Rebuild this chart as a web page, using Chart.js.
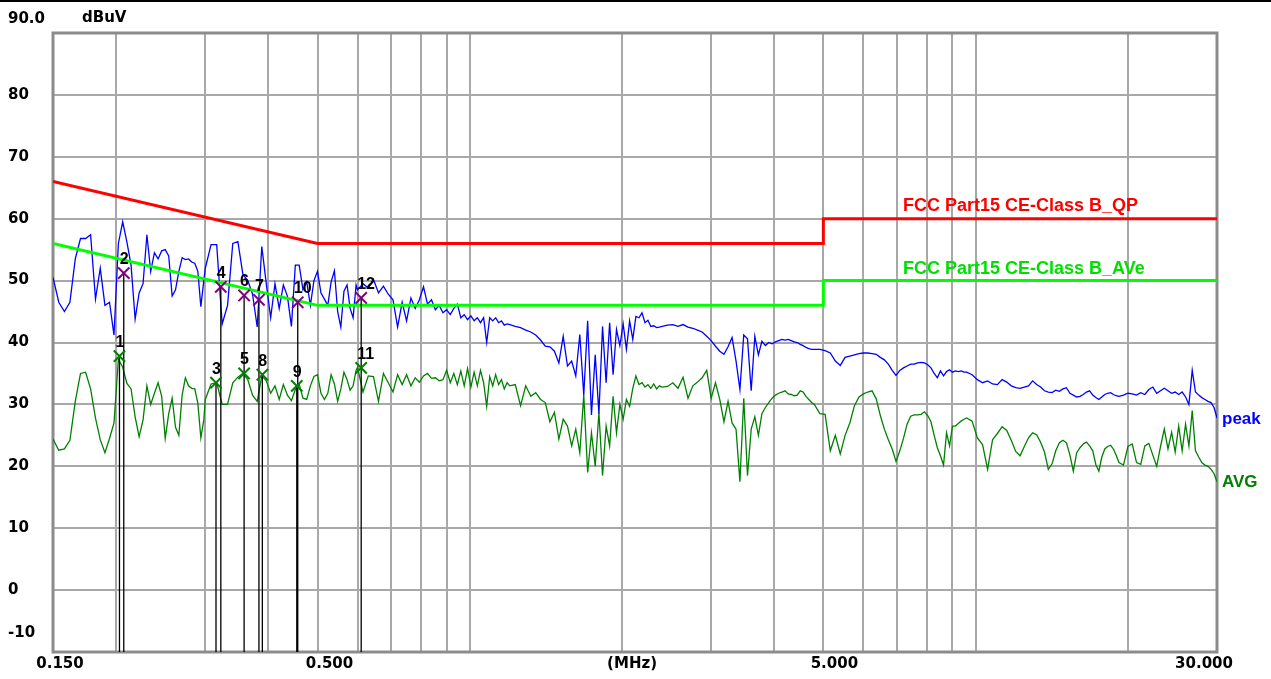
<!DOCTYPE html>
<html>
<head>
<meta charset="utf-8">
<script src="https://cdn.jsdelivr.net/npm/chart.js@4"></script>
<style>
  html, body { margin: 0; padding: 0; background: #fff; }
  #wrap { position: relative; width: 1271px; height: 679px; }
</style>
</head>
<body>
<div id="wrap"><canvas id="myChart"></canvas></div>
<script>
// scan frequencies in kHz
const freqKHz = [
  150,154,158,162,166,170,174,178,182,186,190,194,198,202,206,210,214,218,222,226,230,234,238,242,246,250,254,258,262,266,270,274,278,282,286,290,294,298,
  300,308,316,324,332,340,348,356,364,372,380,388,396,404,412,420,428,436,444,452,460,468,476,484,492,500,508,516,524,532,540,548,556,564,572,580,588,596,
  600,615,630,645,660,675,690,705,720,735,750,765,780,795,810,825,840,855,870,885,900,915,930,945,960,975,990,1005,1020,1035,1050,1065,1080,1095,1110,1125,1140,1155,1170,1185,
  1200,1230,1260,1290,1320,1350,1380,1410,1440,1470,1500,1530,1560,1590,1620,1650,1680,1710,1740,1770,1800,1830,1860,1890,1920,1950,1980,2010,2040,2070,2100,2130,2160,2190,2220,2250,2280,2310,2340,2370,
  2400,2460,2520,2580,2640,2700,2760,2820,2880,2940,3000,3060,3120,3180,3240,3300,3360,3420,3480,3540,3600,3660,3720,3780,3840,3900,3960,4020,4080,4140,4200,4260,4320,4380,4440,4500,4560,4620,4680,4740,
  4800,4920,5040,5160,5280,5400,5520,5640,5760,5880,6000,6120,6240,6360,6480,6600,6720,6840,6960,7080,7200,7320,7440,7560,7680,7800,7920,8040,8160,8280,8400,8520,8640,8760,8880,9000,9120,9240,9360,9480,
  9600,9840,10080,10320,10560,10800,11040,11280,11520,11760,12000,12240,12480,12720,12960,13200,13440,13680,13920,14160,14400,14640,14880,15120,15360,15600,15840,16080,16320,16560,16800,17040,17280,17520,17760,18000,18240,18480,18720,18960,
  19200,19600,20000,20400,20800,21200,21600,22000,22400,22800,23200,23600,24000,24400,24800,25200,25600,26000,26400,26800,27200,27600,28000,28400,28800,29200,29600,30000
];

const peakDb = [
  50.5,46.5,45.0,46.5,53.5,56.8,56.8,57.4,47.0,52.0,46.0,46.5,41.2,56.0,59.5,56.2,52.5,43.8,48.0,49.5,57.4,51.5,54.5,53.5,54.8,55.0,54.0,47.5,48.5,51.5,53.7,53.4,53.5,53.0,52.8,51.5,45.8,50.0,
  52.0,55.8,55.8,43.0,46.0,56.0,56.3,51.0,50.0,47.8,42.5,55.5,49.5,44.0,49.5,45.5,49.3,47.5,42.6,52.5,52.5,48.5,49.8,46.0,50.0,51.5,48.0,47.0,46.0,49.8,51.6,45.0,42.5,48.3,49.3,45.5,44.0,49.3,
  48.5,49.5,48.8,50.2,48.0,49.1,47.8,46.9,42.5,46.5,43.5,47.2,45.5,46.9,49.0,46.2,46.9,45.3,46.0,44.8,45.3,44.5,45.5,46.2,44.0,44.5,43.7,44.3,43.5,44.0,43.2,44.0,40.0,44.0,43.5,44.0,43.2,43.5,42.8,43.0,
  42.9,42.6,42.4,42.0,41.7,41.2,40.4,39.4,39.3,38.6,36.7,41.0,36.2,37.0,34.6,41.3,31.5,43.5,28.3,38.0,28.5,42.6,33.5,43.2,34.8,42.1,39.5,43.0,38.9,43.5,40.5,44.2,44.0,44.8,43.2,43.6,42.6,42.7,42.4,42.5,
  42.6,42.8,42.9,42.6,42.9,42.5,42.3,42.0,41.7,41.0,40.3,39.4,38.6,38.1,39.3,40.8,37.0,32.4,41.2,40.6,32.2,41.0,38.0,40.2,39.5,40.0,39.8,40.1,40.3,40.5,40.4,40.5,40.3,40.1,40.0,39.7,39.5,39.2,39.0,38.9,
  38.9,38.9,38.7,38.3,37.0,36.3,37.6,37.8,38.0,38.2,38.3,38.3,38.2,38.1,37.6,37.2,36.5,35.5,34.7,35.5,35.9,36.2,36.5,36.5,36.7,36.8,36.7,36.4,35.9,35.0,34.3,35.4,34.6,35.3,35.6,35.2,35.4,35.3,35.4,35.2,
  35.2,34.8,34.0,33.5,33.8,33.3,33.2,34.0,33.6,33.0,32.7,32.6,32.8,33.0,33.8,33.2,32.8,32.2,32.0,31.9,32.3,32.1,32.5,32.7,31.8,31.5,31.2,31.3,31.6,32.0,32.2,31.5,31.1,30.8,31.2,31.6,31.8,31.9,31.6,31.4,
  31.3,31.5,31.8,31.7,31.5,31.9,31.6,32.4,32.8,31.8,32.2,32.6,32.2,31.8,32.0,31.6,32.0,31.2,30.0,35.5,32.0,31.5,31.1,30.8,30.5,30.3,29.5,27.8
];

const avgDb = [
  24.4,22.6,22.8,24.2,30.5,35.0,35.2,32.5,27.8,24.3,22.2,24.5,27.0,37.3,36.0,33.4,32.5,28.0,24.8,27.5,33.0,30.0,31.8,33.5,31.3,24.5,28.5,31.0,26.3,25.0,31.5,34.3,33.0,32.6,32.5,30.2,24.6,27.5,
  30.8,33.3,33.5,30.0,30.0,33.5,34.4,35.0,34.0,31.5,30.5,34.6,33.8,31.8,33.0,30.8,33.2,31.5,30.6,32.4,33.3,31.0,30.8,33.0,34.5,34.8,31.8,30.8,31.8,34.8,33.3,30.5,32.5,35.2,34.0,32.3,33.0,35.5,
  36.0,32.0,34.6,34.5,30.5,35.0,33.5,32.0,34.8,33.2,34.8,33.0,34.3,33.6,34.6,35.0,34.2,34.3,33.8,34.0,35.5,33.5,35.0,33.2,35.4,33.0,35.8,32.8,35.2,33.0,35.5,33.5,29.7,34.5,33.0,34.8,33.2,34.0,32.5,33.5,
  33.0,33.2,29.8,33.0,31.3,31.9,30.8,30.3,27.2,28.7,24.4,27.6,26.5,23.3,26.0,22.2,31.5,19.0,25.4,20.0,28.7,18.5,26.5,23.3,31.3,25.4,30.0,27.6,30.8,29.7,32.6,34.6,33.2,33.5,32.8,33.2,32.6,33.3,32.5,33.0,
  32.8,32.9,33.5,32.6,34.4,31.0,33.0,33.6,34.3,35.5,31.0,33.5,30.8,27.2,30.5,27.0,26.0,17.5,31.0,18.5,26.0,28.0,25.0,28.5,29.5,30.3,31.0,31.5,31.8,32.0,32.2,31.7,31.6,31.4,31.5,32.2,32.0,31.3,30.8,30.3,
  30.0,28.5,28.4,22.5,25.0,22.0,25.0,27.0,29.8,31.2,31.7,32.0,32.2,30.9,28.2,26.0,24.3,22.8,20.8,22.5,24.5,26.8,28.1,28.3,28.3,28.4,28.8,28.2,27.2,25.0,23.0,21.7,20.2,25.4,23.3,26.5,26.5,26.9,27.3,27.6,
  27.8,27.3,24.6,23.5,19.5,24.3,25.3,26.4,25.8,24.2,22.4,21.7,23.2,24.6,25.4,25.1,23.9,22.3,19.5,20.4,22.5,23.8,24.2,23.8,21.8,19.2,22.2,23.0,23.6,23.9,23.3,22.5,20.3,19.2,21.5,22.8,23.2,23.4,22.8,21.8,
  20.6,20.2,23.2,23.6,20.6,20.3,23.3,23.7,21.8,20.0,23.2,26.0,22.8,25.5,22.3,26.5,22.5,26.8,23.3,29.0,22.5,21.5,20.6,20.2,20.0,19.5,18.8,17.5
];

// FCC Part 15 class B limits (MHz / dBuV)
const limitFreq = [0.15, 0.5, 5, 5, 30];
const qpLimit = [66, 56, 56, 60, 60];
const avLimit = [56, 46, 46, 50, 50];

// markers
const peakMarkFreq = [0.207, 0.322, 0.358, 0.383, 0.457, 0.610];
const peakMarkDb = [51.2, 49.0, 47.6, 46.9, 46.5, 47.2];
const peakMarkNo = ['2', '4', '6', '7', '10', '12'];
const avgMarkFreq = [0.203, 0.315, 0.358, 0.389, 0.455, 0.610];
const avgMarkDb = [37.8, 33.5, 35.0, 34.8, 33.0, 35.9];
const avgMarkNo = ['1', '3', '5', '8', '9', '11'];

const xGridMHz = [0.15,0.2,0.3,0.4,0.5,0.6,0.7,0.8,0.9,1,2,3,4,5,6,7,8,9,10,20,30];
const xTickMHz = [0.15, 0.5, 2, 5, 30];
const xTickText = ['0.150', '0.500', '(MHz)', '5.000', '30.000'];
const yTicks = [-10, 0, 10, 20, 30, 40, 50, 60, 70, 80, 90];
const yTickText = ['-10', '0', '10', '20', '30', '40', '50', '60', '70', '80', '90.0'];

const pts = (xs, ys) => xs.map((x, i) => ({ x: x, y: ys[i] }));

const stemData = [];
peakMarkFreq.concat(avgMarkFreq).forEach((f, i) => {
    const v = peakMarkDb.concat(avgMarkDb)[i];
    stemData.push({ x: f, y: v }, { x: f, y: -10 }, { x: f, y: null });
});

const AXIS_FONT = 'bold 15px "DejaVu Sans"';

const textPlugin = {
    id: 'texts',
    beforeDatasetsDraw(chart) {
        const { ctx, chartArea: a } = chart;
        ctx.save();
        ctx.strokeStyle = '#8c8c8c';
        ctx.lineWidth = 3;
        ctx.strokeRect(a.left, a.top, a.right - a.left, a.bottom - a.top);
        ctx.restore();
    },
    afterDraw(chart) {
        const { ctx } = chart;
        const xs = chart.scales.x, ys = chart.scales.y;
        ctx.save();
        // window edge at the top
        ctx.fillStyle = '#000';
        ctx.fillRect(0, 0, chart.width, 2);

        ctx.font = AXIS_FONT;
        ctx.textBaseline = 'middle';
        ctx.textAlign = 'left';
        yTicks.forEach((v, i) => {
            let y = ys.getPixelForValue(v);
            if (v === 90) y -= 14;
            if (v === -10) y -= 19;
            ctx.fillText(yTickText[i], 8, y);
        });
        ctx.fillText('dBuV', 82, 18);
        const xOff = [7, 12, 10, 11, -13];
        ctx.textAlign = 'center';
        xTickMHz.forEach((v, i) => {
            ctx.fillText(xTickText[i], xs.getPixelForValue(v) + xOff[i], 664);
        });

        ctx.textBaseline = 'alphabetic';
        ctx.textAlign = 'left';
        ctx.font = 'bold 18px "Liberation Sans"';
        ctx.fillStyle = '#ff0000';
        ctx.fillText('FCC Part15 CE-Class B_QP', 903, ys.getPixelForValue(60) - 8);
        ctx.fillStyle = '#00e000';
        ctx.fillText('FCC Part15 CE-Class B_AVe', 903, ys.getPixelForValue(50) - 7);

        ctx.font = 'bold 17px "Liberation Sans"';
        ctx.fillStyle = '#0000ff';
        ctx.fillText('peak', 1222, 424);
        ctx.fillStyle = '#008000';
        ctx.fillText('AVG', 1222, 487);

        ctx.font = 'bold 16px "Liberation Sans"';
        ctx.fillStyle = '#000';
        const labelMarks = (fs, vs, ns) => fs.forEach((f, i) => {
            ctx.fillText(ns[i], xs.getPixelForValue(f) - 4, ys.getPixelForValue(vs[i]) - 9);
        });
        labelMarks(peakMarkFreq, peakMarkDb, peakMarkNo);
        labelMarks(avgMarkFreq, avgMarkDb, avgMarkNo);
        ctx.restore();
    }
};

const config = {
    type: 'line',
    data: {
        datasets: [{
            data: pts(peakMarkFreq, peakMarkDb),
            showLine: false,
            pointStyle: 'crossRot',
            pointRadius: 8,
            pointBorderWidth: 2,
            pointBorderColor: '#800080'
        }, {
            data: pts(avgMarkFreq, avgMarkDb),
            showLine: false,
            pointStyle: 'crossRot',
            pointRadius: 8,
            pointBorderWidth: 2,
            pointBorderColor: '#008000'
        }, {
            data: stemData,
            borderColor: '#000',
            borderWidth: 1.3,
            pointRadius: 0,
            spanGaps: false
        }, {
            data: pts(limitFreq, qpLimit),
            borderColor: '#ff0000',
            borderWidth: 3,
            pointRadius: 0
        }, {
            data: pts(limitFreq, avLimit),
            borderColor: '#00ff00',
            borderWidth: 3,
            pointRadius: 0
        }, {
            data: pts(freqKHz.map(f => f / 1000), peakDb),
            borderColor: '#0000ff',
            borderWidth: 1.3,
            pointRadius: 0
        }, {
            data: pts(freqKHz.map(f => f / 1000), avgDb),
            borderColor: '#008000',
            borderWidth: 1.3,
            pointRadius: 0
        }]
    },
    options: {
        responsive: true,
        maintainAspectRatio: false,
        animation: false,
        events: [],
        layout: { padding: { left: 53, top: 33, right: 54, bottom: 27 } },
        elements: { line: { tension: 0, fill: false } },
        plugins: {
            legend: { display: false },
            tooltip: { enabled: false }
        },
        scales: {
            x: {
                type: 'logarithmic',
                min: 0.15,
                max: 30,
                afterBuildTicks: s => { s.ticks = xGridMHz.map(v => ({ value: v })); },
                ticks: { display: false },
                grid: { color: '#a8a8a8', lineWidth: 2, drawTicks: false },
                border: { display: false }
            },
            y: {
                min: -10,
                max: 90,
                afterBuildTicks: s => { s.ticks = yTicks.map(v => ({ value: v })); },
                ticks: { display: false },
                grid: { color: '#a8a8a8', lineWidth: 2, drawTicks: false },
                border: { display: false }
            }
        }
    },
    plugins: [textPlugin]
};

const ctx = document.getElementById('myChart');
new Chart(ctx, config);
</script>
</body>
</html>
